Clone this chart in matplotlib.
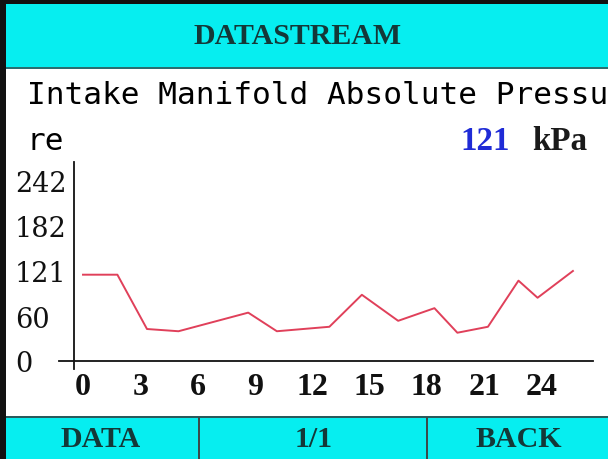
import matplotlib
matplotlib.use("Agg")
import matplotlib.pyplot as plt
from matplotlib.patches import Rectangle

# --- data ---
t_sec = [0, 1.8, 3.35, 5, 8.65, 10.15, 12.9, 14.6, 16.5, 18.4, 19.6, 21.2, 22.8, 23.8, 25.65]
map_kpa = [116, 116, 43, 40, 65, 40, 46, 89, 54, 71, 38, 46, 108, 85, 121]
x_ticks = [0, 3, 6, 9, 12, 15, 18, 21, 24]
y_ticks = [0, 60, 121, 182, 242]

title = "DATASTREAM"
pid_name = ["Intake Manifold Absolute Pressu", "re"]
cur_value = "121"
unit = "kPa"
buttons = ["DATA", "1/1", "BACK"]

W, H = 608, 460
CYAN = "#06eef0"
DARK = "#143838"
mono = "DejaVu Sans Mono"
serif = "DejaVu Serif"
times = "Liberation Serif"

fig = plt.figure(figsize=(W / 100, H / 100), dpi=100)
fig.patch.set_facecolor("white")

# background layer in pixel coordinates (y grows downward)
bg = fig.add_axes([0, 0, 1, 1], zorder=0)
bg.set_xlim(0, W)
bg.set_ylim(H, 0)
bg.axis("off")

bg.add_patch(Rectangle((0, 0), W, 70, color=CYAN, lw=0))
bg.add_patch(Rectangle((0, 67.5), W, 2.5, color="#2a6e70", lw=0))
bg.add_patch(Rectangle((0, 417), W, 43, color=CYAN, lw=0))
bg.add_patch(Rectangle((0, 416.5), W, 2, color="#2a5a5c", lw=0))
for xd in (199, 427):
    bg.add_patch(Rectangle((xd - 1, 418), 2, 42, color="#3a4a4a", lw=0))
bg.add_patch(Rectangle((0, 0), W, 5, color="#111111", lw=0))
bg.add_patch(Rectangle((0, 0), 5.5, H, color="#111111", lw=0))

bg.text(298, 36, title, ha="center", va="center", fontsize=21.5,
        family=times, weight="bold", color=DARK)
bg.text(27, 104, pid_name[0], ha="left", va="baseline", fontsize=22.4,
        family=mono, color="#000000", clip_on=True)
bg.text(27, 150, pid_name[1], ha="left", va="baseline", fontsize=22.4,
        family=mono, color="#000000")
bg.text(460, 150, cur_value, ha="left", va="baseline", fontsize=23.8,
        family=times, weight="bold", color="#1f2bd6")
bg.text(532, 150, unit, ha="left", va="baseline", fontsize=23.8,
        family=times, weight="bold", color="#1a1a1a")
for bx, lbl in zip((101, 314, 519), buttons):
    bg.text(bx, 440, lbl, ha="center", va="center", fontsize=21.5,
            family=times, weight="bold", color=DARK)

# --- chart ---
x0, sx = 83, 19.1     # px of t=0, px per second
y0, sy = 362, 0.744   # px of 0 kPa, px per kPa
left, right, top, bottom = 74, 593, 163, 370
ax = fig.add_axes([left / W, 1 - bottom / H, (right - left) / W, (bottom - top) / H], zorder=1)
ax.patch.set_alpha(0)
ax.set_xlim((left - x0) / sx, (right - x0) / sx)
ax.set_ylim(-(bottom - y0) / sy, (y0 - top) / sy)

ax.plot(t_sec, map_kpa, color="#e0405a", lw=1.4)
ax.axhline(0, xmin=-(left - 59) / (right - left), xmax=1, color="#111111", lw=1.3, clip_on=False)

for s in ("top", "right", "bottom"):
    ax.spines[s].set_visible(False)
ax.spines["left"].set_color("#111111")
ax.spines["left"].set_linewidth(1.3)

ax.set_xticks(x_ticks)
ax.set_xticklabels([str(v) for v in x_ticks], family=times, weight="bold",
                   fontsize=23, color="#111111")
ax.set_yticks(y_ticks)
ax.set_yticklabels([str(v) for v in y_ticks], family=serif, fontsize=19.5, color="#111111")
ax.tick_params(axis="x", length=0, pad=2)
ax.tick_params(axis="y", length=0, pad=(left - 15) * 0.72)
for lab in ax.get_yticklabels():
    lab.set_horizontalalignment("left")

fig.savefig("out.png", dpi=100)
